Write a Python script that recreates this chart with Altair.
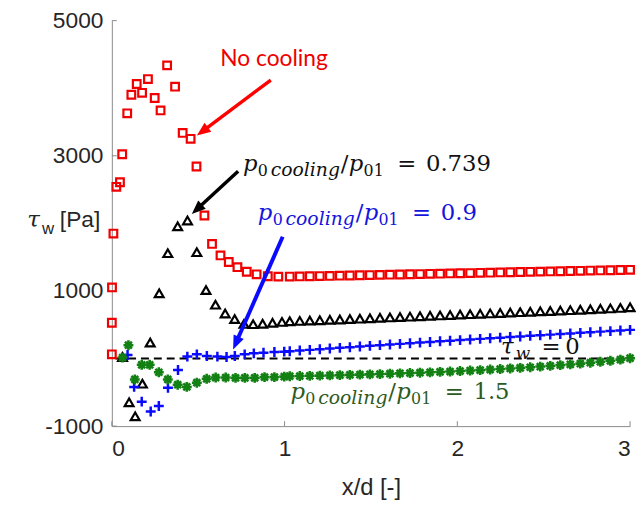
import math
import altair as alt
import pandas as pd

# ---------------- data ----------------
# common x positions of the downstream part of every series
tail_x = [1.03, 1.088, 1.146, 1.204, 1.262, 1.32, 1.378, 1.436, 1.494, 1.552,
          1.61, 1.668, 1.726, 1.784, 1.842, 1.9, 1.958, 2.016, 2.074, 2.132,
          2.19, 2.248, 2.306, 2.364, 2.422, 2.48, 2.538, 2.596, 2.654, 2.712,
          2.77, 2.828, 2.886, 2.944, 3.0]

# No cooling (red squares)
red_x = [0.0, 0.0, 0.001, 0.009, 0.026, 0.047, 0.060, 0.089, 0.113, 0.144,
         0.175, 0.209, 0.248, 0.282, 0.320, 0.366, 0.410, 0.456, 0.490, 0.536,
         0.580, 0.629, 0.677, 0.727, 0.781, 0.838, 0.903, 0.964]
red_y = [62, 530, 1052, 1849, 2541, 2609, 3023, 3628, 3903, 4062,
         3932, 4135, 3855, 3671, 4338, 4023, 3338, 3251, 2841, 2116,
         1696, 1526, 1429, 1352, 1284, 1246, 1217, 1212]
red_tail = [1213, 1215, 1218, 1220, 1223, 1226, 1229, 1232, 1235, 1238,
            1241, 1244, 1247, 1250, 1253, 1256, 1259, 1262, 1265, 1268,
            1271, 1274, 1277, 1280, 1283, 1286, 1289, 1292, 1295, 1298,
            1301, 1304, 1307, 1310, 1313]

# p0cooling/p01 = 0.739 (black triangles)
black_x = [0.062, 0.100, 0.135, 0.177, 0.222, 0.274, 0.324, 0.381, 0.438, 0.492,
           0.545, 0.600, 0.656, 0.711, 0.765, 0.818, 0.873, 0.930, 0.985]
black_y = [23, -648, -855, -372, 236, 965, 1559, 1957, 2043, 1574,
           1014, 797, 667, 584, 512, 508, 515, 528, 542]
black_tail = [552, 557, 562, 567, 573, 578, 584, 590, 596, 602,
              608, 614, 620, 626, 632, 638, 644, 650, 656, 662,
              668, 674, 680, 686, 692, 698, 704, 710, 716, 722,
              728, 735, 742, 749, 758]

# p0cooling/p01 = 0.9 (blue crosses)
blue_x = [0.091, 0.129, 0.173, 0.225, 0.272, 0.325, 0.383, 0.437, 0.492, 0.550,
          0.611, 0.664, 0.712, 0.769, 0.822, 0.878, 0.941, 0.998]
blue_y = [52, -420, -638, -783, -703, -433, -170, 29, 62, 38,
          29, 23, 38, 62, 77, 87, 96, 102]
blue_tail = [108, 118, 128, 138, 148, 158, 168, 178, 188, 198,
             207, 217, 226, 236, 245, 255, 264, 273, 282, 291,
             300, 309, 318, 327, 336, 345, 354, 362, 371, 380,
             389, 398, 406, 415, 424]

# p0cooling/p01 = 1.5 (green asterisks)
green_x = [0.062, 0.096, 0.133, 0.173, 0.219, 0.272, 0.324, 0.381, 0.434, 0.492,
           0.549, 0.601, 0.659, 0.716, 0.770, 0.827, 0.884, 0.941, 0.998]
green_y = [14, 197, -310, -93, -93, -203, -310, -387, -420, -358,
           -300, -281, -281, -286, -286, -286, -275, -275, -268]
green_tail = [-262, -259, -256, -253, -250, -246, -242, -238, -234, -230,
              -225, -220, -215, -210, -204, -198, -192, -185, -178, -171,
              -163, -155, -147, -138, -129, -119, -109, -98, -87, -75,
              -62, -48, -33, -16, 5]

x_ticks = [0, 1, 2, 3]
y_ticks = [-1000, 1000, 3000, 5000]
zero_line_x = [0.02, 3.0]

# ---------------- layout / style ----------------
W, H = 524, 410
XD, YD = [0, 3], [-1000, 5000]
PX = W / (XD[1] - XD[0])
PY = H / (YD[1] - YD[0])

xscale = alt.Scale(domain=XD, nice=False, zero=False)
yscale = alt.Scale(domain=YD, nice=False, zero=False)
LBL = "'' + datum.value"
x_axis = alt.Axis(values=x_ticks, title="x/d [-]", grid=False, ticks=False,
                  labelPadding=12, titlePadding=15, labelExpr=LBL,
                  labelFontSize=23, titleFontSize=24)
y_axis = alt.Axis(values=y_ticks, title="", grid=False, ticks=False,
                  labelPadding=9, labelExpr=LBL, labelFontSize=23)


def X(f="x"):
    return alt.X(f + ":Q", scale=xscale, axis=x_axis)


def Y(f="y"):
    return alt.Y(f + ":Q", scale=yscale, axis=y_axis)


def series(xs, ys, tail):
    return pd.DataFrame({"x": xs + tail_x, "y": ys + tail})


df_red = series(red_x, red_y, red_tail)
df_black = series(black_x, black_y, black_tail)
df_blue = series(blue_x, blue_y, blue_tail)
df_green = series(green_x, green_y, green_tail)

CROSS = "M-1,0H1M0,-1V1"
STAR = "M-1,0H1M0,-1V1M-0.7,-0.7L0.7,0.7M-0.7,0.7L0.7,-0.7"
HEAD = "M0,-1L0.8,1L-0.8,1Z"

pts_red = alt.Chart(df_red).mark_point(shape="square", filled=False, size=60,
                                        strokeWidth=2.2, color="#f00000", opacity=1
                                        ).encode(x=X(), y=Y())
pts_black = alt.Chart(df_black).mark_point(shape="triangle-up", filled=False, size=80,
                                            strokeWidth=2.2, color="#000000", opacity=1
                                            ).encode(x=X(), y=Y())
pts_blue = alt.Chart(df_blue).mark_point(shape=CROSS, filled=False, size=100,
                                          strokeWidth=2.5, color="#0a0aff", opacity=1
                                          ).encode(x=X(), y=Y())
pts_green = alt.Chart(df_green).mark_point(shape=STAR, filled=False, size=100,
                                            strokeWidth=2.6, color="#138013", opacity=1
                                            ).encode(x=X(), y=Y())

# zero line
df_zero = pd.DataFrame({"x": [zero_line_x[0]], "x2": [zero_line_x[1]], "y": [0]})
zero = alt.Chart(df_zero).mark_rule(color="#000000", strokeWidth=2, strokeDash=[8, 5]
                                    ).encode(x=X(), x2="x2:Q", y=Y())

# inward ticks (MATLAB style)
tick_len = 5
df_xt = pd.DataFrame({"x": x_ticks, "y": [YD[0]] * 4, "y2": [YD[0] + tick_len / PY] * 4})
df_yt = pd.DataFrame({"y": y_ticks, "x": [XD[0]] * 4, "x2": [XD[0] + tick_len / PX] * 4})
xt = alt.Chart(df_xt).mark_rule(color="#8a8a8a", strokeWidth=1).encode(x=X(), y=Y(), y2="y2:Q")
yt = alt.Chart(df_yt).mark_rule(color="#8a8a8a", strokeWidth=1).encode(x=X(), x2="x2:Q", y=Y())

# arrows: (start x, start y, tip x, tip y, colour, width)
arrows = [
    (0.920, 4120, 0.492, 3299, "#ff0000", 3.5),
    (0.731, 2772, 0.463, 2139, "#000000", 3.5),
    (0.989, 1801, 0.702, 135, "#0a0aff", 4.0),
]
HEAD_HALF = 7
rows_r, rows_h = [], []
for x0, y0, x1, y1, c, w in arrows:
    dxp = (x1 - x0) * PX
    dyp = -(y1 - y0) * PY
    L = math.hypot(dxp, dyp)
    ux, uy = dxp / L, dyp / L
    ang = math.degrees(math.atan2(ux, -uy)) % 360
    hx = x1 - HEAD_HALF * ux / PX
    hy = y1 + HEAD_HALF * uy / PY
    rows_r.append({"x": x0, "y": y0, "x2": hx, "y2": hy, "c": c, "w": w})
    rows_h.append({"x": hx, "y": hy, "a": ang, "c": c})
arrow_lines = alt.Chart(pd.DataFrame(rows_r)).mark_rule(strokeCap="butt").encode(
    x=X(), y=Y(), x2="x2:Q", y2="y2:Q",
    color=alt.Color("c:N", scale=None), strokeWidth=alt.StrokeWidth("w:Q", scale=None))
arrow_heads = alt.Chart(pd.DataFrame(rows_h)).mark_point(
    shape=HEAD, filled=True, size=196, strokeWidth=0, opacity=1).encode(
    x=X(), y=Y(), angle=alt.Angle("a:Q", scale=None), color=alt.Color("c:N", scale=None))

# ---------------- text annotations ----------------
segs = []


def add(text, x, y, size, font, italic, color):
    segs.append({"t": text, "x": x, "y": y, "s": size, "f": font,
                 "i": italic, "c": color})


# p_{0 cooling}/p_{01} = value   (anchor = left of first p, on the baseline)
ratio_labels = [(0.759, 2770, "0.739", "#111111"),
                (0.845, 2055, "0.9", "#1414dc"),
                (1.034, -604, "1.5", "#2d5a1e")]
SUB = 5
for ax, ay, val, col in ratio_labels:
    add("p", ax, ay, 23, "serif", True, col)
    add("0", ax + 15 / PX, ay - SUB / PY, 16, "serif", False, col)
    add("cooling", ax + 28 / PX, ay - SUB / PY, 19, "serif", True, col)
    add("/", ax + 99 / PX, ay, 23, "serif", False, col)
    add("p", ax + 107 / PX, ay, 23, "serif", True, col)
    add("01", ax + 122 / PX, ay - SUB / PY, 16, "serif", False, col)
    add("=", ax + 156 / PX, ay, 23, "serif", False, col)
    add(val, ax + 185 / PX, ay, 23, "serif", False, col)

# tau_w = 0
tx, ty = 2.253, 62
add("τ", tx, ty, 23, "serif", True, "#111111")
add("w", tx + 15 / PX, ty - SUB / PY, 17, "serif", True, "#111111")
add("=", tx + 41 / PX, ty, 23, "serif", False, "#111111")
add("0", tx + 65 / PX, ty, 23, "serif", False, "#111111")

# y axis title
yx, yy = -0.49, 1950
add("τ", yx, yy, 23, "serif", True, "#262626")
add("w", yx + 15 / PX, yy - 7 / PY, 17, "sans", False, "#262626")
add("[Pa]", yx + 33 / PX, yy, 23, "sans", False, "#262626")

# No cooling
add("No cooling", 0.628, 4330, 23, "lato", False, "#ee0000")

df_txt = pd.DataFrame(segs)
FONTS = {"serif": "DejaVu Serif", "sans": "Liberation Sans", "lato": "Lato"}
text_layers = []
for (f, it), g in df_txt.groupby(["f", "i"]):
    kw = dict(font=FONTS[f], align="left", baseline="alphabetic")
    if it:
        kw["fontStyle"] = "italic"
    text_layers.append(
        alt.Chart(g.reset_index(drop=True)).mark_text(**kw).encode(
            x=X(), y=Y(), text="t:N",
            size=alt.Size("s:Q", scale=None),
            color=alt.Color("c:N", scale=None)))

chart = alt.layer(
    xt, yt, zero, pts_red, pts_black, pts_blue, pts_green,
    *text_layers, arrow_lines, arrow_heads
).properties(
    width=W, height=H,
    padding={"left": 105, "top": 10, "right": 6, "bottom": 78},
    autosize=alt.AutoSizeParams(type="none"),
).configure_view(stroke="transparent").configure_axis(
    domainColor="#8a8a8a", domainWidth=1,
    labelFont="Liberation Sans", labelColor="#262626",
    titleFont="Liberation Sans", titleColor="#262626",
    titleFontWeight="normal",
)

chart.save("out.html", embed_options={"renderer": "svg", "actions": False})
